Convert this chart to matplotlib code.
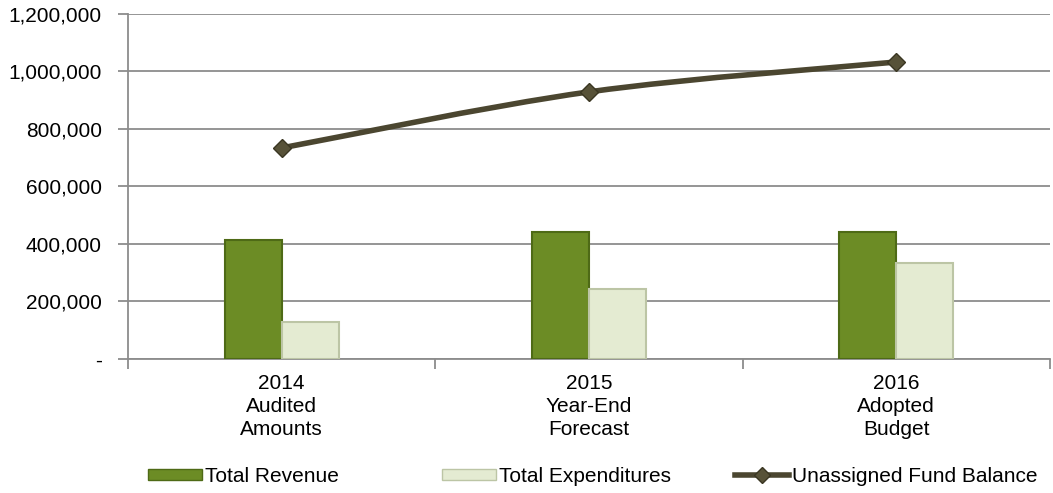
import matplotlib.pyplot as plt
import numpy as np
from matplotlib.path import Path
from matplotlib.patches import PathPatch
from matplotlib.lines import Line2D
from matplotlib.patches import Patch
from matplotlib.ticker import FuncFormatter

plt.rcParams['font.family'] = ['Liberation Sans', 'DejaVu Sans']

# ---- data ----
categories = ["2014\nAudited\nAmounts", "2015\nYear-End\nForecast", "2016\nAdopted\nBudget"]
total_revenue = [414000, 442000, 442000]
total_expenditures = [129000, 243000, 334000]
fund_balance = [734000, 929000, 1033000]

FS = 15

fig = plt.figure(figsize=(10.53, 4.93), dpi=100)
ax = fig.add_axes([0.1216, 0.272, 0.8754, 0.6996])

x = np.arange(len(categories))
w = 0.185

ax.bar(x - w / 2, total_revenue, w, color="#6c8c25", edgecolor="#4e6a16", linewidth=1.5, zorder=3)
ax.bar(x + w / 2, total_expenditures, w, color="#e4ebd2", edgecolor="#bcc5a5", linewidth=1.5, zorder=3)

# smoothed line (cardinal spline through the points, drawn as bezier segments)
pts = np.column_stack([x, fund_balance]).astype(float)
verts = [tuple(pts[0])]
codes = [Path.MOVETO]
t = 1 / 6
for i in range(len(pts) - 1):
    p0 = pts[i - 1] if i > 0 else pts[i]
    p1 = pts[i]
    p2 = pts[i + 1]
    p3 = pts[i + 2] if i + 2 < len(pts) else pts[i + 1]
    c1 = p1 + (p2 - p0) * t
    c2 = p2 - (p3 - p1) * t
    verts += [tuple(c1), tuple(c2), tuple(p2)]
    codes += [Path.CURVE4] * 3
ax.add_patch(PathPatch(Path(verts, codes), facecolor="none", edgecolor="#4b4630",
                       linewidth=4.0, capstyle="round", zorder=4))
ax.plot(x, fund_balance, linestyle="none", marker="D", markersize=9,
        color="#575238", markeredgecolor="#3a3622", zorder=5)

ax.set_xlim(-0.5, 2.5)
ax.set_ylim(0, 1200000)
ax.set_yticks(np.arange(0, 1200001, 200000))
ax.yaxis.set_major_formatter(FuncFormatter(lambda v, p: "-" if v == 0 else f"{int(v):,}"))
ax.grid(axis="y", color="#8c8c8c", linewidth=1.3, zorder=0)
ax.set_axisbelow(True)

ax.set_xticks(x)
ax.set_xticklabels(categories, linespacing=1.25)
ax.set_xticks([-0.5, 0.5, 1.5, 2.5], minor=True)
ax.tick_params(axis="x", which="major", length=0, pad=11, labelsize=FS)
ax.tick_params(axis="x", which="minor", length=7, color="#8c8c8c", width=1.3)
ax.tick_params(axis="y", length=7, color="#8c8c8c", width=1.3, labelsize=FS, pad=12)

for s in ["top", "right"]:
    ax.spines[s].set_visible(False)
ax.spines["left"].set_color("#8c8c8c")
ax.spines["left"].set_linewidth(1.3)
ax.spines["bottom"].set_color("#8c8c8c")
ax.spines["bottom"].set_linewidth(1.3)

# legend entries in equal-width slots along the bottom
handles = [
    Patch(facecolor="#6c8c25", edgecolor="#4e6a16", label="Total Revenue"),
    Patch(facecolor="#e4ebd2", edgecolor="#bcc5a5", label="Total Expenditures"),
    Line2D([0], [0], color="#4b4630", linewidth=4.0, marker="D", markersize=8,
           markerfacecolor="#575238", markeredgecolor="#3a3622", label="Unassigned Fund Balance"),
]
slot_x = [0.1405, 0.4197, 0.698]
for h, sx in zip(handles, slot_x):
    fig.legend(handles=[h], loc="center left", bbox_to_anchor=(sx, 0.034),
               frameon=False, fontsize=FS, handlelength=2.6, handleheight=0.45,
               handletextpad=0.15, borderpad=0, borderaxespad=0)

fig.savefig("out.png", dpi=100)
